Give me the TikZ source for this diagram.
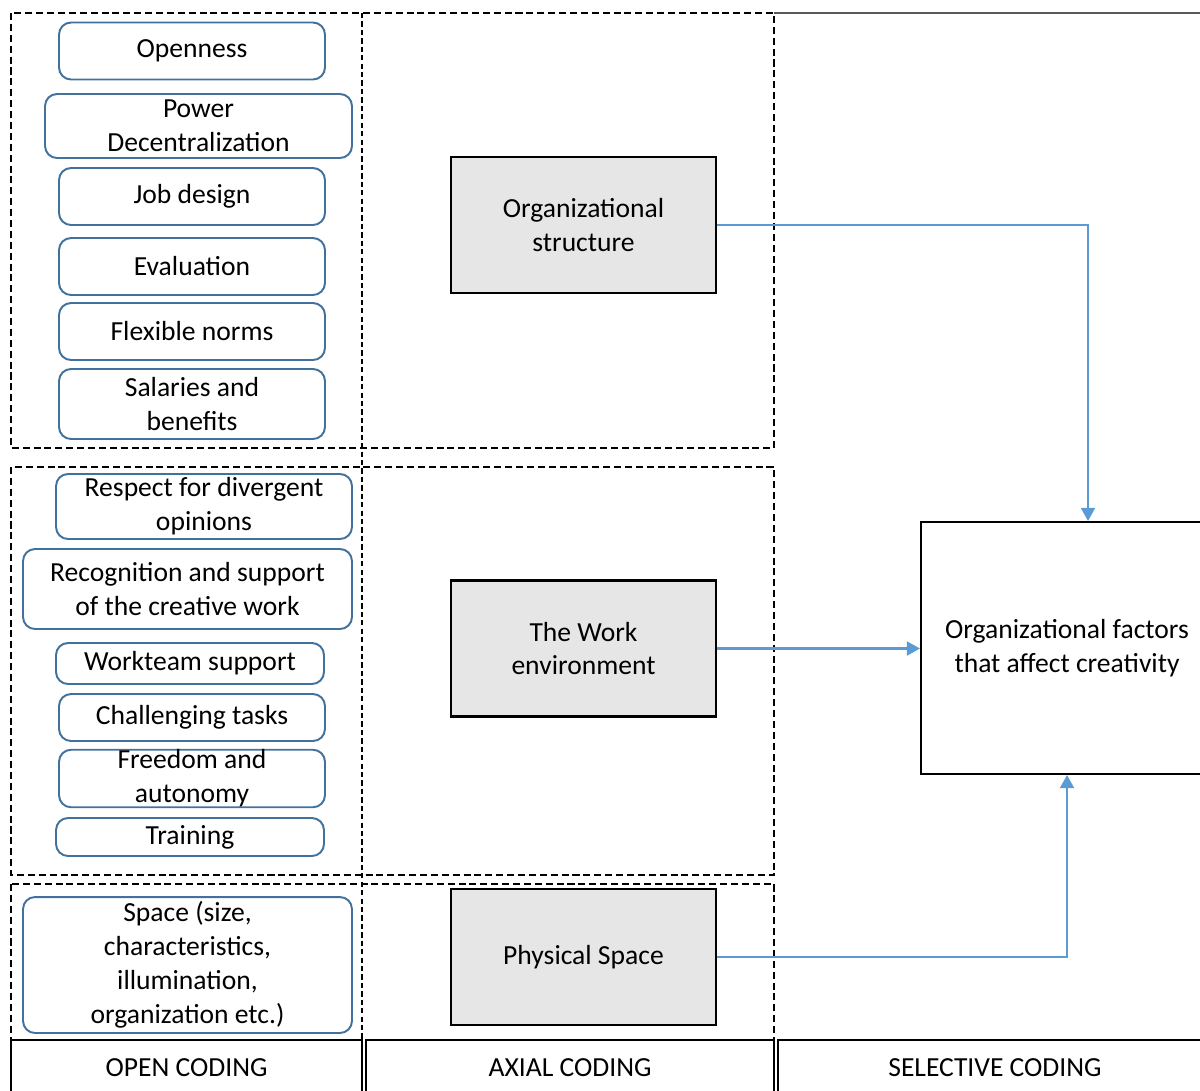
\documentclass[tikz,border=0pt]{standalone}
\usepackage{fontspec}
\setmainfont{Carlito}
\usepackage{tikz}
\usetikzlibrary{arrows.meta}
\definecolor{boxblue}{HTML}{41719C}
\definecolor{flowblue}{HTML}{5B9BD5}
\definecolor{axialgray}{HTML}{E7E6E6}
\tikzset{%
  every code/.style={
    draw=boxblue,
    line width=1.1pt,
    rounded corners=0.24cm,
    align=center,
    inner sep=0pt,
    minimum width=5.32cm,
    minimum height=1.14cm
  },
  every axial/.style={
    draw=black,
    fill=axialgray,
    line width=1.2pt,
    align=center,
    minimum width=5.3cm,
    minimum height=2.72cm
  },
  coding frame/.style={
    draw=black,
    line width=1.3pt,
    dash pattern=on 4pt off 2.2pt
  },
  coding head/.style={
    draw=black,
    line width=1.2pt,
    minimum height=1.12cm
  },
  flow/.style={
    draw=flowblue,
    line width=1.2pt,
    ->
  },
}

\begin{document}
\begin{tikzpicture}[> = {Triangle[length=7.5pt,width=8pt]}, x=0.02cm, y=-0.02cm,
    font=\fontsize{15.7}{19.3}\selectfont]
\useasboundingbox (0,0) rectangle (1200,1090);
\begin{scope}
\clip (0,0) rectangle (1200,1090);
    % dashed frames of the three groups
    \foreach \t/\b in {13/448, 467/875, 884/1040}
        \draw[coding frame] (11,\t) rectangle (774,\b);
    \draw[black, line width=0.7pt, dash pattern=on 3pt off 1.8pt] (362,13) -- (362,1040);
    \draw[gray!70!black, line width=0.7pt] (774,13) -- (1200,13);

    % open coding
    \node[every code] (open_1) at (192,51){Openness};
    \node[every code, minimum width=6.14cm, minimum height=1.28cm] (open_2) at (198.5,126){Power\\Decentralization};
    \node[every code] (open_3) at (192,196.5){Job design};
    \node[every code] (open_4) at (192,266.5){Evaluation};
    \node[every code] (open_5) at (192,331.5){Flexible norms};
    \node[every code, minimum height=1.4cm] (open_6) at (192,404){Salaries and\\benefits};
    \node[every code, minimum width=5.92cm, minimum height=1.3cm] (open_7) at (204,506.5){Respect for divergent\\opinions};
    \node[every code, minimum width=6.58cm, minimum height=1.6cm] (open_8) at (187.5,589){Recognition and support\\of the creative work};
    \node[every code, minimum width=5.36cm, minimum height=0.82cm] (open_9) at (190,663.5){Workteam support};
    \node[every code, minimum height=0.94cm] (open_10) at (192,717.5){Challenging tasks};
    \node[every code] (open_11) at (192,778.5){Freedom and\\autonomy};
    \node[every code, minimum width=5.36cm, minimum height=0.76cm] (open_12) at (190,837){Training};
    \node[every code, minimum width=6.58cm, minimum height=2.72cm] (open_13) at (187.5,965){Space (size,\\characteristics,\\illumination,\\organization etc.)};

    % axial coding
    \node[every axial] (axial_1) at (583.5,225){Organizational\\structure};
    \node[every axial] (axial_2) at (583.5,648.5){The Work\\environment};
    \node[every axial] (axial_3) at (583.5,957){Physical Space};

    % selective coding
    \node[draw, line width=1.2pt, align=center, minimum width=5.84cm, minimum height=5.04cm] (factors) at (1067,648){Organizational factors\\that affect creativity};

    \draw[flow] (axial_1.east) -| ([xshift=0.42cm]factors.north);
    \draw[flow] (axial_2.east) -- (axial_2.east -| factors.west);
    \draw[flow] (axial_3.east) -| (factors.south);

    % column heads
    \node[coding head, minimum width=7.02cm] (head_open) at (186.5,1068){OPEN CODING};
    \node[coding head, minimum width=8.16cm] (head_axial) at (570,1068){AXIAL CODING};
    \node[coding head, minimum width=8.68cm] (head_selective) at (995,1068){SELECTIVE CODING};
\end{scope}
\end{tikzpicture}
\end{document}
